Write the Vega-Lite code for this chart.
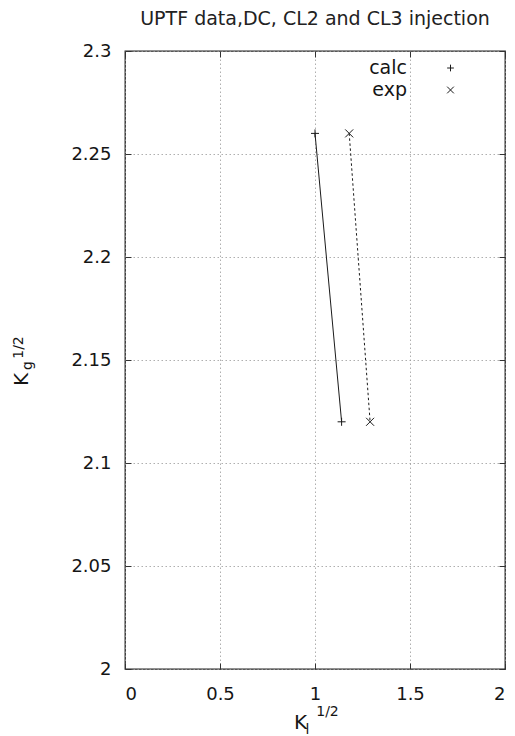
{
  "$schema": "https://vega.github.io/schema/vega-lite/v6.json",
  "width": 380,
  "height": 618,
  "autosize": {"type": "none"},
  "padding": {"left": 125, "top": 51, "right": 10, "bottom": 67},
  "background": "white",
  "title": {
    "text": "UPTF data,DC, CL2 and CL3 injection",
    "font": "DejaVu Sans",
    "fontSize": 19,
    "fontWeight": "normal",
    "color": "#222",
    "anchor": "middle",
    "frame": "group",
    "baseline": "alphabetic",
    "offset": 26,
    "dy": 28
  },
  "config": {
    "font": "DejaVu Sans",
    "view": {"stroke": "#222", "strokeWidth": 1.3},
    "axis": {
      "domain": false,
      "labelFont": "DejaVu Sans",
      "labelFontSize": 18,
      "labelColor": "#151515",
      "tickColor": "#333",
      "tickSize": -6,
      "titleFont": "DejaVu Sans",
      "titleFontWeight": "normal",
      "titleColor": "#151515",
      "titleAlign": "center",
      "titleBaseline": "alphabetic",
      "gridColor": "#9a9a9a",
      "gridDash": [1.5, 2.5],
      "gridWidth": 0.8
    }
  },
  "data": {
    "values": [
      {"series": "calc", "kl": 1.0, "kg": 2.26},
      {"series": "calc", "kl": 1.14, "kg": 2.12},
      {"series": "exp", "kl": 1.18, "kg": 2.26},
      {"series": "exp", "kl": 1.29, "kg": 2.12}
    ]
  },
  "resolve": {"axis": {"x": "independent", "y": "independent"}},
  "layer": [
    {
      "transform": [{"filter": "datum.series === 'calc'"}],
      "mark": {"type": "line", "color": "#1a1a1a", "strokeWidth": 1},
      "encoding": {
        "x": {
          "field": "kl", "type": "quantitative",
          "scale": {"domain": [0, 2], "nice": false, "zero": false},
          "axis": {
            "orient": "bottom",
            "values": [0, 0.5, 1, 1.5, 2],
            "labelExpr": "'' + datum.value",
            "labelPadding": 22,
            "grid": true,
            "title": "K",
            "titleFontSize": 20,
            "titleX": 175,
            "titleY": 59
          }
        },
        "y": {
          "field": "kg", "type": "quantitative",
          "scale": {"domain": [2, 2.3], "nice": false, "zero": false},
          "axis": {
            "orient": "left",
            "values": [2, 2.05, 2.1, 2.15, 2.2, 2.25, 2.3],
            "labelExpr": "'' + datum.value",
            "labelPadding": 20,
            "grid": true,
            "title": "K",
            "titleFontSize": 20,
            "titleAngle": -90,
            "titleX": -98,
            "titleY": 328
          }
        }
      }
    },
    {
      "transform": [{"filter": "datum.series === 'exp'"}],
      "mark": {"type": "line", "color": "#1a1a1a", "strokeWidth": 1, "strokeDash": [2.5, 2.5]},
      "encoding": {
        "x": {
          "field": "kl", "type": "quantitative",
          "scale": {"domain": [0, 2], "nice": false, "zero": false},
          "axis": null
        },
        "y": {
          "field": "kg", "type": "quantitative",
          "scale": {"domain": [2, 2.3], "nice": false, "zero": false},
          "axis": null
        }
      }
    },
    {
      "mark": {"type": "point", "filled": false, "color": "#1a1a1a", "strokeWidth": 1, "size": 64, "opacity": 1},
      "encoding": {
        "x": {
          "field": "kl", "type": "quantitative",
          "scale": {"domain": [0, 2], "nice": false, "zero": false},
          "axis": {
            "orient": "top",
            "values": [0, 0.5, 1, 1.5, 2],
            "labels": false,
            "grid": false,
            "title": null
          }
        },
        "y": {
          "field": "kg", "type": "quantitative",
          "scale": {"domain": [2, 2.3], "nice": false, "zero": false},
          "axis": {
            "orient": "right",
            "values": [2, 2.05, 2.1, 2.15, 2.2, 2.25, 2.3],
            "labels": false,
            "grid": false,
            "title": null
          }
        },
        "shape": {
          "field": "series", "type": "nominal",
          "scale": {
            "domain": ["calc", "exp"],
            "range": ["M-1,0L1,0M0,-1L0,1", "M-1,-1L1,1M-1,1L1,-1"]
          },
          "legend": {
            "title": null,
            "orient": "none",
            "legendX": 316,
            "legendY": 7.5,
            "padding": 0,
            "rowPadding": 2,
            "symbolSize": 45,
            "symbolStrokeColor": "#1a1a1a",
            "symbolStrokeWidth": 1,
            "symbolFillColor": "transparent",
            "labelFont": "DejaVu Sans",
            "labelFontSize": 19,
            "labelColor": "#151515",
            "labelAlign": "right",
            "labelOffset": -53,
            "labelLimit": 200
          }
        }
      }
    },
    {
      "mark": {"type": "point", "opacity": 0},
      "encoding": {
        "x": {
          "field": "kl", "type": "quantitative",
          "scale": {"domain": [0, 2], "nice": false, "zero": false},
          "axis": {
            "orient": "bottom",
            "labels": false, "ticks": false, "grid": false,
            "title": "l",
            "titleFontSize": 14,
            "titleX": 182,
            "titleY": 64
          }
        },
        "y": {
          "field": "kg", "type": "quantitative",
          "scale": {"domain": [2, 2.3], "nice": false, "zero": false},
          "axis": {
            "orient": "left",
            "labels": false, "ticks": false, "grid": false,
            "title": "g",
            "titleFontSize": 14,
            "titleAngle": -90,
            "titleX": -94,
            "titleY": 314
          }
        }
      }
    },
    {
      "mark": {"type": "point", "opacity": 0},
      "encoding": {
        "x": {
          "field": "kl", "type": "quantitative",
          "scale": {"domain": [0, 2], "nice": false, "zero": false},
          "axis": {
            "orient": "bottom",
            "labels": false, "ticks": false, "grid": false,
            "title": "1/2",
            "titleFontSize": 14,
            "titleX": 202,
            "titleY": 46
          }
        },
        "y": {
          "field": "kg", "type": "quantitative",
          "scale": {"domain": [2, 2.3], "nice": false, "zero": false},
          "axis": {
            "orient": "left",
            "labels": false, "ticks": false, "grid": false,
            "title": "1/2",
            "titleFontSize": 14,
            "titleAngle": -90,
            "titleX": -103,
            "titleY": 296
          }
        }
      }
    }
  ]
}
